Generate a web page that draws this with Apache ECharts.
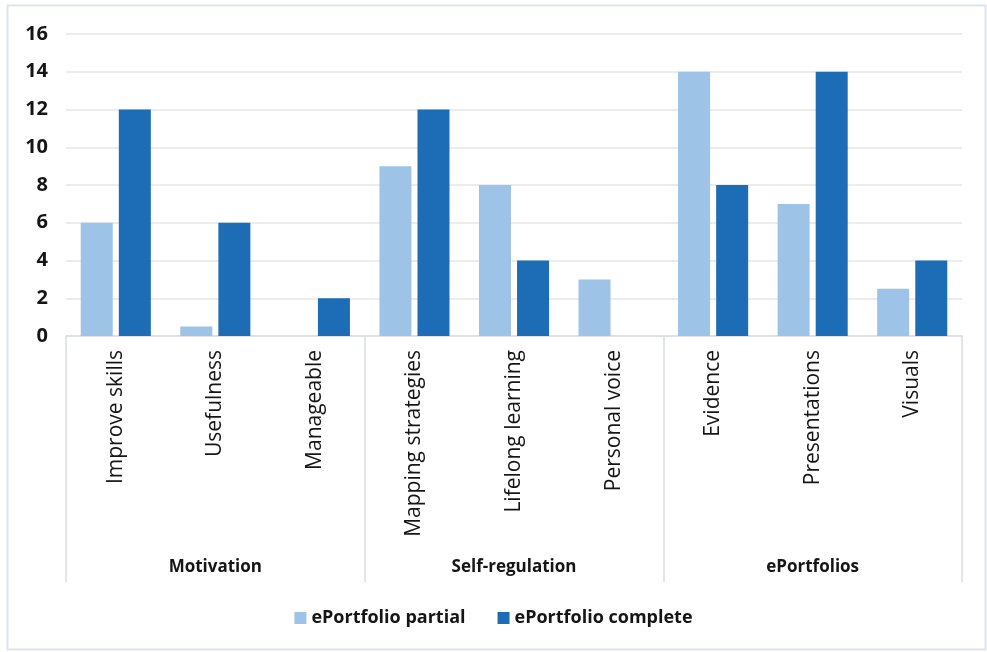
<!DOCTYPE html>
<html>
<head>
<meta charset="utf-8">
<script src="https://cdn.jsdelivr.net/npm/echarts@6/dist/echarts.min.js"></script>
<style>
  html, body { margin: 0; padding: 0; background: #ffffff; }
  #chart { width: 987px; height: 652px; }
</style>
</head>
<body>
<div id="chart"></div>
<script>
// Sub-categories and the theme group each one belongs to
const categories = ['Improve skills', 'Usefulness', 'Manageable',
  'Mapping strategies', 'Lifelong learning', 'Personal voice',
  'Evidence', 'Presentations', 'Visuals'];
const groups = ['Motivation', 'Self-regulation', 'ePortfolios'];

// Counts per sub-category
const partialValues = [6, 0.5, 0, 9, 8, 3, 14, 7, 2.5];
const completeValues = [12, 6, 2, 12, 4, 0, 8, 14, 4];

const seriesNames = ['ePortfolio partial', 'ePortfolio complete'];
const yTicks = { min: 0, max: 16, interval: 2 };

const FONT = '"Open Sans", "DejaVu Sans", sans-serif';
const TEXT = '#151515';
const LINE = '#d9dde3';

const chart = echarts.init(document.getElementById('chart'));
chart.setOption({
  backgroundColor: '#ffffff',
  animation: false,
  graphic: [{
    type: 'rect',
    shape: { x: 7.5, y: 5.5, width: 978, height: 644 },
    style: { fill: 'none', stroke: '#dde4ec', lineWidth: 2 },
    silent: true,
    z: -1
  }],
  grid: { left: 66, right: 25, top: 34, bottom: 316, containLabel: false },
  legend: {
    data: seriesNames,
    top: 604,
    left: 'center',
    itemWidth: 12,
    itemHeight: 12,
    itemGap: 32,
    icon: 'rect',
    textStyle: { fontFamily: FONT, fontSize: 18, fontWeight: 'bold', color: TEXT }
  },
  xAxis: [{
    type: 'category',
    data: categories,
    axisLine: { lineStyle: { color: LINE, width: 1.5 } },
    axisTick: { show: false },
    axisLabel: {
      rotate: 90,
      interval: 0,
      margin: 14,
      fontFamily: FONT,
      fontSize: 21,
      color: TEXT
    }
  }, {
    type: 'category',
    data: groups,
    position: 'bottom',
    offset: 246,
    axisLine: { show: false },
    axisTick: {
      show: true,
      inside: true,
      length: 246,
      interval: 0,
      lineStyle: { color: LINE, width: 1.5 }
    },
    axisLabel: {
      inside: true,
      margin: 6,
      interval: 0,
      fontFamily: FONT,
      fontSize: 17,
      fontWeight: 'bold',
      color: TEXT
    },
    splitLine: { show: false }
  }],
  yAxis: {
    type: 'value',
    min: yTicks.min,
    max: yTicks.max,
    interval: yTicks.interval,
    axisLine: { show: false },
    axisTick: { show: false },
    splitLine: { lineStyle: { color: '#e4e6ea', width: 1.5 } },
    axisLabel: {
      margin: 18,
      fontFamily: FONT,
      fontSize: 20,
      fontWeight: 'bold',
      color: TEXT
    }
  },
  series: [{
    name: seriesNames[0],
    type: 'bar',
    xAxisIndex: 0,
    data: partialValues,
    barWidth: 32,
    barGap: '19%',
    itemStyle: { color: '#9dc3e6' }
  }, {
    name: seriesNames[1],
    type: 'bar',
    xAxisIndex: 0,
    data: completeValues,
    barWidth: 32,
    barGap: '19%',
    itemStyle: { color: '#1c6db5' }
  }]
});
</script>
</body>
</html>
